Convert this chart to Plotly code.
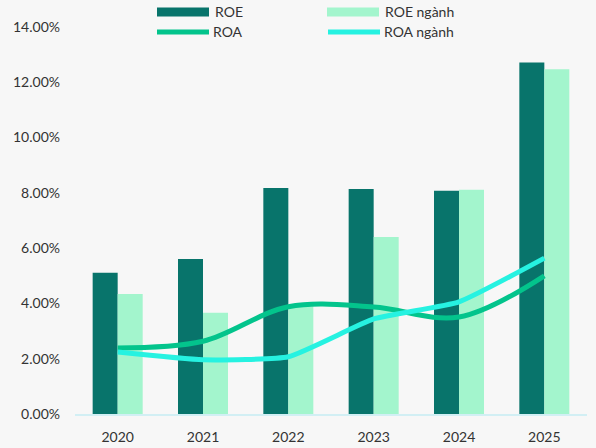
import plotly.graph_objects as go

years = ["2020", "2021", "2022", "2023", "2024", "2025"]
roe = [0.0511, 0.0561, 0.0818, 0.0814, 0.0808, 0.1272]
roe_nganh = [0.0434, 0.0366, 0.0390, 0.0640, 0.0811, 0.1247]
roa = [0.0239, 0.0263, 0.0388, 0.0387, 0.0351, 0.0500]
roa_nganh = [0.0224, 0.0196, 0.0207, 0.0344, 0.0406, 0.0564]

C_ROE = "#08746b"
C_ROE_N = "#a3f5cd"
C_ROA = "#03c48c"
C_ROA_N = "#26f2e1"
FONT = "Lato"
TXT = "#333333"

fig = go.Figure()
fig.add_trace(go.Bar(x=years, y=roe, name="ROE", marker=dict(color=C_ROE, line=dict(width=0))))
fig.add_trace(go.Bar(x=years, y=roe_nganh, name="ROE ngành", marker=dict(color=C_ROE_N, line=dict(width=0))))
fig.add_trace(go.Scatter(x=years, y=roa, name="ROA", mode="lines",
                         line=dict(color=C_ROA, width=5, shape="spline", smoothing=1.0)))
fig.add_trace(go.Scatter(x=years, y=roa_nganh, name="ROA ngành", mode="lines",
                         line=dict(color=C_ROA_N, width=5, shape="spline", smoothing=0.45)))

# hand-built legend with wide swatches
shapes = []
annotations = []
W, H = 596, 448
entries = [
    ("ROE", C_ROE, "rect", 157, 12),
    ("ROE ngành", C_ROE_N, "rect", 327, 12),
    ("ROA", C_ROA, "line", 155, 32),
    ("ROA ngành", C_ROA_N, "line", 326, 32),
]
for label, color, kind, x0, yc in entries:
    if kind == "rect":
        shapes.append(dict(type="rect", xref="paper", yref="paper",
                           x0=(x0 - 75) / 512, x1=(x0 + 52 - 75) / 512,
                           y0=(414 - (yc + 4.5)) / 387, y1=(414 - (yc - 4.5)) / 387,
                           fillcolor=color, line=dict(width=0), layer="above"))
    else:
        shapes.append(dict(type="line", xref="paper", yref="paper",
                           x0=(x0 + 2 - 75) / 512, x1=(x0 + 54 - 75) / 512,
                           y0=(414 - yc) / 387, y1=(414 - yc) / 387,
                           line=dict(color=color, width=5), layer="above"))
    annotations.append(dict(text=label, xref="paper", yref="paper",
                            x=(x0 + 56 - 75) / 512, y=(414 - yc) / 387,
                            xanchor="left", yanchor="middle", showarrow=False,
                            font=dict(family=FONT, size=14, color=TXT)))

fig.update_layout(
    width=W, height=H,
    margin=dict(l=75, r=9, t=27, b=34),
    paper_bgcolor="#f7f7f7", plot_bgcolor="#f7f7f7",
    barmode="group", bargap=0.414, bargroupgap=0,
    showlegend=False,
    font=dict(family=FONT, size=14, color=TXT),
    shapes=shapes, annotations=annotations,
    xaxis=dict(showgrid=False, showline=True, linecolor="#d2eff4", linewidth=2,
               ticks="", tickfont=dict(size=14, color=TXT), ticklabelstandoff=9,
               automargin=False),
    yaxis=dict(range=[0, 0.14], dtick=0.02, tickformat=".2%", showgrid=False,
               zeroline=False, showline=False, ticks="",
               tickfont=dict(size=14, color=TXT), ticklabelstandoff=14,
               automargin=False),
)

fig.write_html("out.html")
